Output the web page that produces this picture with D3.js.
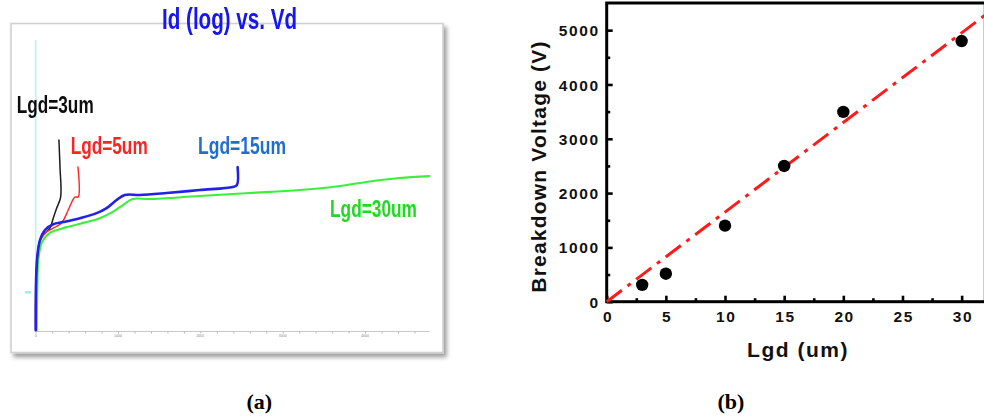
<!DOCTYPE html>
<html>
<head>
<meta charset="utf-8">
<script src="https://cdn.jsdelivr.net/npm/d3@7"></script>
<style>
  html, body { margin: 0; padding: 0; background: #fff; }
  svg { display: block; }
</style>
</head>
<body>
<svg id="fig" width="984" height="417"></svg>
<script>
// ---- (a) Id (log) vs. Vd : drain current sweeps for four gate-drain spacings ----
const vdTicks = [0, 1000, 2000, 3000, 4000];
const vdTickLabels = ["0", "1000", "2000", "3000", "4000"];

const vd3 = [0, 12, 52, 113, 173, 213, 255, 303, 295, 282];
const id3 = [1.1e-10, 3.7e-9, 1.66e-8, 2.46e-8, 3.2e-8, 5.6e-8, 9.8e-8, 1.81e-7, 9.6e-7, 4.3e-6];

const vd5 = [0, 4, 32, 73, 133, 213, 315, 395, 476, 516, 513];
const id5 = [1.1e-10, 2.1e-9, 1.1e-8, 1.86e-8, 2.6e-8, 3.2e-8, 4.3e-8, 8.8e-8, 1.81e-7, 1.81e-7, 9.6e-7];

const vd15 = [0, 4, 19, 52, 113, 213, 335, 537, 739, 861, 982, 1082, 1264, 1588, 1991, 2392, 2444, 2452];
const id15 = [1.1e-10, 1.5e-9, 6.5e-9, 1.66e-8, 2.9e-8, 4.0e-8, 4.5e-8, 5.6e-8, 7.4e-8, 9.8e-8, 1.53e-7, 2.03e-7, 2.03e-7, 2.26e-7, 2.67e-7, 3.16e-7, 3.53e-7, 9.6e-7];

const vd30 = [12, 19, 32, 73, 173, 376, 618, 779, 937, 1058, 1179, 1385, 1991, 2598, 3204, 3604, 4016, 4416, 4780];
const id30 = [1.1e-10, 1.0e-9, 5.5e-9, 1.4e-8, 2.46e-8, 3.4e-8, 4.5e-8, 5.6e-8, 7.9e-8, 1.16e-7, 1.62e-7, 1.62e-7, 1.92e-7, 2.26e-7, 2.67e-7, 3.16e-7, 4.18e-7, 5.2e-7, 5.8e-7];

const curveNames = ["Lgd=30um", "Lgd=3um", "Lgd=5um", "Lgd=15um"];

// ---- (b) Breakdown voltage vs. Lgd ----
const lgd = [3, 5, 10, 15, 20, 30];
const vbd = [310, 515, 1400, 2500, 3495, 4800];
const fitLgd = [0, 32];
const fitVbd = [0, 5280];
const xTicksB = [0, 5, 10, 15, 20, 25, 30];
const yTicksB = [0, 1000, 2000, 3000, 4000, 5000];

const svg = d3.select("#fig");
const defs = svg.append("defs");

const shadow = defs.append("filter").attr("id", "cardShadow")
  .attr("x", "-5%").attr("y", "-5%").attr("width", "115%").attr("height", "115%");
shadow.append("feDropShadow").attr("dx", 3).attr("dy", 4).attr("stdDeviation", 2)
  .attr("flood-color", "#000").attr("flood-opacity", 0.38);

const soft = defs.append("filter").attr("id", "soft");
soft.append("feGaussianBlur").attr("stdDeviation", 0.45);

// ===================== panel (a) =====================
const pa = svg.append("g");

pa.append("rect")
  .attr("x", 11).attr("y", 23.5).attr("width", 432).attr("height", 329)
  .attr("fill", "#fff").attr("stroke", "#d0d0d0").attr("stroke-width", 1.6)
  .attr("filter", "url(#cardShadow)");

const xa = d3.scaleLinear().domain([0, 4780]).range([35.7, 429.3]);
const ya = d3.scaleLog().domain([1e-10, 1e-3]).range([332, 42]);

const plotA = pa.append("g").attr("filter", "url(#soft)");

// cyan current axis
plotA.append("line")
  .attr("x1", xa(0)).attr("x2", xa(0)).attr("y1", ya(1e-3) - 2).attr("y2", ya(1e-10))
  .attr("stroke", "#b8f4f4").attr("stroke-width", 1.6);
plotA.append("rect")
  .attr("x", 25).attr("y", ya(1e-9) + 0.5).attr("width", 6).attr("height", 2.5)
  .attr("fill", "#9eecef");

// voltage axis with fine ticks
const axA = plotA.append("g").attr("transform", `translate(0,${ya(1e-10) - 0.5})`)
  .call(d3.axisBottom(xa).tickValues(d3.range(0, 4780, 200)).tickSize(2).tickFormat(""));
axA.select(".domain").attr("stroke", "#c8c8c8").attr("stroke-width", 1.2)
  .attr("d", `M${xa(0)},0H${xa(4780)}`);
axA.selectAll(".tick line").attr("stroke", "#b0b0b0").attr("stroke-width", 0.9);

plotA.append("g").selectAll("text").data(vdTicks).join("text")
  .attr("x", d => xa(d)).attr("y", ya(1e-10) + 4.8)
  .attr("text-anchor", "middle")
  .attr("font-family", "Liberation Sans, Arial, sans-serif")
  .attr("font-size", 3.6).attr("fill", "#8a8a8a")
  .text((d, i) => vdTickLabels[i]);

const lineA = d3.line().x(d => xa(d[0])).y(d => ya(d[1])).curve(d3.curveCatmullRom.alpha(0.5));
const curves = {
  "Lgd=3um":  { v: vd3,  i: id3,  color: "#1c1c1c", w: 1.5 },
  "Lgd=5um":  { v: vd5,  i: id5,  color: "#ff2b2b", w: 1.5 },
  "Lgd=15um": { v: vd15, i: id15, color: "#2323e6", w: 2.6 },
  "Lgd=30um": { v: vd30, i: id30, color: "#3cef3c", w: 2.1 }
};
curveNames.forEach(name => {
  const c = curves[name];
  plotA.append("path")
    .datum(c.v.map((v, k) => [v, c.i[k]]))
    .attr("d", lineA).attr("fill", "none")
    .attr("stroke", c.color).attr("stroke-width", c.w)
    .attr("stroke-linejoin", "round").attr("stroke-linecap", "round");
});

const narrow = "'Liberation Sans Narrow', 'Arial Narrow', 'Liberation Sans', Arial, sans-serif";
const curveLabels = [
  { t: "Lgd=3um",  x: 16.7, y: 113.3, w: 77,  c: "#111111" },
  { t: "Lgd=5um",  x: 70.7, y: 154.3, w: 77,  c: "#ff2424" },
  { t: "Lgd=15um", x: 198,  y: 154.3, w: 88,  c: "#1f6ed2" },
  { t: "Lgd=30um", x: 330,  y: 216.7, w: 87,  c: "#22d822" }
];
plotA.append("g").selectAll("text").data(curveLabels).join("text")
  .attr("x", d => d.x).attr("y", d => d.y)
  .attr("font-family", narrow).attr("font-weight", "bold").attr("font-size", 23)
  .attr("fill", d => d.c)
  .attr("textLength", d => d.w).attr("lengthAdjust", "spacingAndGlyphs")
  .text(d => d.t);

plotA.append("text")
  .attr("x", 162).attr("y", 29.3)
  .attr("font-family", narrow).attr("font-weight", "bold").attr("font-size", 29)
  .attr("fill", "#1212f0")
  .attr("textLength", 135).attr("lengthAdjust", "spacingAndGlyphs")
  .text("Id (log) vs. Vd");

// ===================== panel (b) =====================
const pb = svg.append("g");
const xb = d3.scaleLinear().domain([0, 32]).range([606.7, 985.3]);
const yb = d3.scaleLinear().domain([0, 5500]).range([301.7, 3]);
const boldSans = "'Liberation Sans', Arial, Helvetica, sans-serif";

// frame
pb.append("rect")
  .attr("x", xb(0)).attr("y", yb(5500)).attr("width", xb(32) - xb(0)).attr("height", yb(0) - yb(5500))
  .attr("fill", "none").attr("stroke", "#000").attr("stroke-width", 3);

// minor ticks
const minorX = d3.range(2.5, 32, 5);
const minorY = d3.range(500, 5500, 1000);
pb.append("g").attr("transform", `translate(0,${yb(0)})`)
  .call(d3.axisBottom(xb).tickValues(minorX).tickSize(-3.5).tickFormat(""))
  .call(g => g.select(".domain").remove())
  .call(g => g.selectAll(".tick line").attr("stroke", "#000").attr("stroke-width", 2.6));
pb.append("g").attr("transform", `translate(${xb(0)},0)`)
  .call(d3.axisLeft(yb).tickValues(minorY).tickSize(-3.5).tickFormat(""))
  .call(g => g.select(".domain").remove())
  .call(g => g.selectAll(".tick line").attr("stroke", "#000").attr("stroke-width", 2.6));

// major ticks + labels
const axXB = pb.append("g").attr("transform", `translate(0,${yb(0)})`)
  .call(d3.axisBottom(xb).tickValues(xTicksB).tickSize(-6).tickPadding(8).tickFormat(d3.format("d")));
const axYB = pb.append("g").attr("transform", `translate(${xb(0)},0)`)
  .call(d3.axisLeft(yb).tickValues(yTicksB).tickSize(-6).tickPadding(8).tickFormat(d3.format("d")));
[axXB, axYB].forEach(ax => {
  ax.select(".domain").remove();
  ax.selectAll(".tick line").attr("stroke", "#000").attr("stroke-width", 2.6);
  ax.selectAll(".tick text")
    .attr("font-family", boldSans).attr("font-weight", "bold").attr("font-size", 15.5)
    .attr("letter-spacing", 1.6).attr("fill", "#111");
});
axXB.selectAll(".tick text").attr("y", 20.5).attr("dy", null).attr("dx", 0.8);
axYB.selectAll(".tick text").attr("x", -7).attr("dy", "0.36em");

// linear fit (dash-dot)
pb.append("path")
  .datum(fitLgd.map((v, k) => [v, fitVbd[k]]))
  .attr("d", d3.line().x(d => xb(d[0])).y(d => yb(d[1])))
  .attr("fill", "none").attr("stroke", "#ff1a1a").attr("stroke-width", 3)
  .attr("stroke-dasharray", "19,7,4,7");

// measured breakdown points
pb.append("g").selectAll("circle").data(lgd).join("circle")
  .attr("cx", d => xb(d)).attr("cy", (d, i) => yb(vbd[i])).attr("r", 6.2)
  .attr("fill", "#000");

// axis titles
pb.append("text")
  .attr("x", 798).attr("y", 356.7).attr("text-anchor", "middle")
  .attr("font-family", boldSans).attr("font-weight", "bold").attr("font-size", 21)
  .attr("letter-spacing", 1.5).attr("fill", "#111")
  .text("Lgd (um)");
pb.append("text")
  .attr("transform", `translate(545.5,${(40 + 293) / 2}) rotate(-90)`)
  .attr("text-anchor", "middle")
  .attr("font-family", boldSans).attr("font-weight", "bold").attr("font-size", 21)
  .attr("letter-spacing", 1.2).attr("fill", "#111")
  .text("Breakdown Voltage (V)");

// ===================== panel captions =====================
svg.append("g").selectAll("text").data([{ t: "(a)", x: 259.3 }, { t: "(b)", x: 731 }]).join("text")
  .attr("x", d => d.x).attr("y", 409).attr("text-anchor", "middle")
  .attr("font-family", "'Liberation Serif', 'Times New Roman', serif").attr("font-weight", "bold")
  .attr("font-size", 22).attr("fill", "#000")
  .text(d => d.t);
</script>
</body>
</html>
